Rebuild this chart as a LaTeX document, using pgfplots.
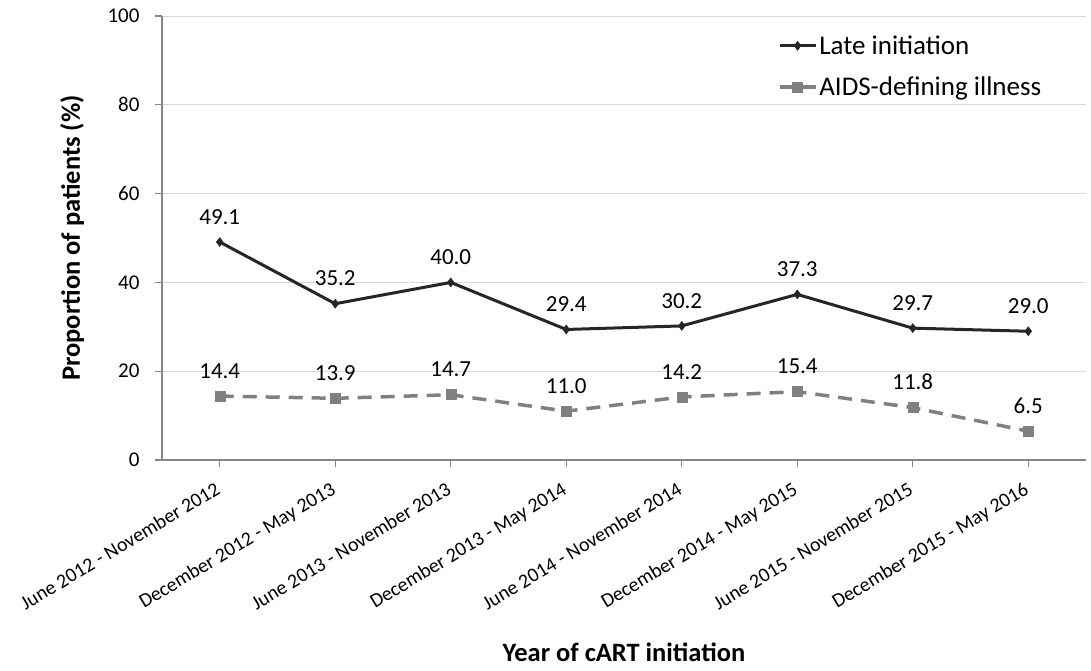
\documentclass[border=0pt]{standalone}
\usepackage{pgfplots}
\pgfplotsset{compat=1.18}
\usepackage{fontspec}
\setmainfont{Carlito}
\definecolor{gridc}{HTML}{D9D9D9}
\definecolor{axc}{HTML}{868686}
\definecolor{latec}{HTML}{262626}
\definecolor{aidsc}{HTML}{808080}
\newcommand{\tf}{\fontsize{21}{24}\selectfont}
\begin{document}
\begin{tikzpicture}[x=1pt,y=1pt]
\useasboundingbox (0,0) rectangle (1091,-670);
\begin{axis}[
  at={(162pt,-460pt)}, anchor=south west,
  scale only axis, width=924pt, height=444pt,
  xmin=-0.5, xmax=7.5, ymin=0, ymax=100,
  ytick={0,20,40,60,80,100},
  yticklabels={{\tf 0},{\tf 20},{\tf 40},{\tf 60},{\tf 80},{\tf 100}},
  xtick={0,...,7},
  xticklabels={June 2012 - November 2012, December 2012 - May 2013, June 2013 - November 2013, December 2013 - May 2014, June 2014 - November 2014, December 2014 - May 2015, June 2015 - November 2015, December 2015 - May 2016},
  x tick label style={rotate=31, anchor=north east, font=\fontsize{20}{24}\selectfont, inner sep=2pt, yshift=-7pt, xshift=-10pt},
  yticklabel style={font=\tf, xshift=-12pt},
  axis lines*=left,
  axis line style={axc, line width=1.3pt},
  tick style={axc, line width=1.3pt},
  tick align=outside, major tick length=7pt,
  ymajorgrids, grid style={gridc, line width=1pt},
  ylabel={\textbf{Proportion of patients (\%)}},
  xlabel={\textbf{Year of cART initiation}},
  label style={font=\fontsize{26.5}{30}\selectfont},
  ylabel style={at={(axis description cs:0,0.5)}, anchor=center, yshift=90pt},
  xlabel style={at={(axis description cs:0.5,0)}, anchor=center, yshift=-192pt},
  legend style={draw=none, fill=none, at={(0.663,0.965)}, anchor=north west, font=\fontsize{27}{30}\selectfont, row sep=17pt, cells={anchor=west}},
  legend image code/.code={\draw[#1, mark repeat=2, mark phase=2] plot coordinates {(0pt,0pt) (18pt,0pt) (36pt,0pt)};},
  nodes near coords,
  every node near coord/.append style={font=\fontsize{23}{26}\selectfont, black, yshift=14pt},
  point meta=explicit symbolic,
  clip=false,
]
\draw[axc, line width=1.3pt] (rel axis cs:0,0) -- ++(-7pt,0);
\addplot[latec, line width=3pt, mark=diamond*, mark size=4.5pt, mark options={solid, line width=0.5pt}] coordinates {
(0,49.1)[49.1] (1,35.2)[35.2] (2,40.0)[40.0] (3,29.4)[29.4] (4,30.2)[30.2] (5,37.3)[37.3] (6,29.7)[29.7] (7,29.0)[29.0]};
\addlegendentry{Late initiation}
\addplot[aidsc, line width=3.5pt, dash pattern=on 14pt off 9pt, mark=square*, mark size=5pt, mark options={solid, line width=0.5pt}] coordinates {
(0,14.4)[14.4] (1,13.9)[13.9] (2,14.7)[14.7] (3,11.0)[11.0] (4,14.2)[14.2] (5,15.4)[15.4] (6,11.8)[11.8] (7,6.5)[6.5]};
\addlegendentry{AIDS-defining illness}
\end{axis}
\end{tikzpicture}
\end{document}
